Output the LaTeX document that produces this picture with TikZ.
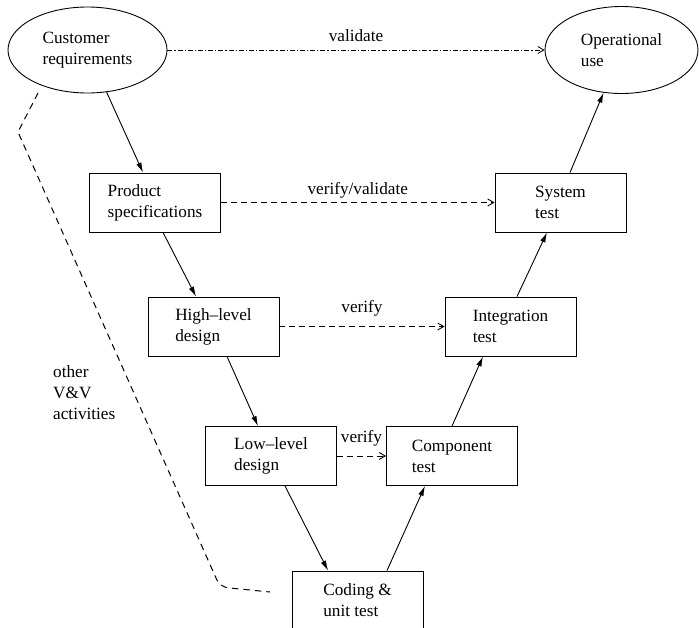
\documentclass[tikz,border=0pt]{standalone}
\usepackage{fontspec}
\setmainfont{Liberation Serif}
\usetikzlibrary{arrows.meta,calc,shapes.geometric}
\newcommand\dfont{\fontsize{17.2}{21}\selectfont}
\begin{document}
\begin{tikzpicture}[x=1pt,y=-1pt,
  every node/.style={font=\dfont},
  stagebox/.style={draw, line width=0.9pt, align=left, minimum width=131pt, minimum height=59pt, inner sep=0pt},
  oval/.style={draw, ellipse, line width=0.9pt, align=left, inner sep=0pt},
  flow/.style={line width=0.9pt, -{Latex[length=10pt,width=5.5pt]}},
  dsh/.style={line width=0.9pt, dash pattern=on 6pt off 4pt, -{Straight Barb[length=6pt,width=7pt]}},
  dshdot/.style={line width=0.8pt, dash pattern=on 5pt off 2pt on 1.2pt off 2pt, -{Straight Barb[length=6pt,width=7pt]}},
  vvline/.style={line width=1pt, dash pattern=on 6.5pt off 5pt},
  lbl/.style={inner sep=0pt}
]
\useasboundingbox (0,0) rectangle (699,627);

% ellipses
\node[oval, minimum width=159pt, minimum height=86pt] (cust) at (87.5,50) {Customer\\requirements};
\node[oval, minimum width=153pt, minimum height=87pt] (op) at (621.5,50) {Operational\\use};

% boxes
\node[stagebox] (prod) at (155,202.5) {Product\\specifications};
\node[stagebox] (hl) at (213.5,326.5) {High--level\\design};
\node[stagebox] (ll) at (271,456) {Low--level\\design};
\node[stagebox] (coding) at (357.5,600.5) {Coding \&\\unit test};
\node[stagebox] (comp) at (452,456) {Component\\test};
\node[stagebox] (integ) at (510.5,326.5) {Integration\\test};
\node[stagebox] (sys) at (560.5,202.5) {System\\test};

% horizontal verification links
\draw[dshdot] (cust.east) -- node[lbl, above=8pt] (l1) {validate} (op.west);
\draw[dsh] (prod.east) -- node[lbl, above=4pt] (l2) {verify/validate} (sys.west);
\draw[dsh] (hl.east) -- node[lbl, above=10pt] (l3) {verify} (integ.west);
\draw[dsh] (ll.east) -- node[lbl, above=9pt] (l4) {verify} (comp.west);

% V flow
\draw[flow] (cust) -- ([xshift=-12pt]prod.north);
\draw[flow] ([xshift=8pt]prod.south) -- ([xshift=-17.5pt]hl.north);
\draw[flow] ([xshift=13.5pt]hl.south) -- ([xshift=-13pt]ll.north);
\draw[flow] ([xshift=14pt]ll.south) -- ([xshift=-29.5pt]coding.north);
\draw[flow] ([xshift=29.5pt]coding.north) -- ([xshift=-27pt]comp.south);
\draw[flow] (comp.north) -- ([xshift=-27.5pt]integ.south);
\draw[flow] ([xshift=6.5pt]integ.north) -- ([xshift=-13.5pt]sys.south);
\draw[flow] ([xshift=9.5pt]sys.north) -- (op);

% other V&V activities
\coordinate (vvs) at (38,93);
\coordinate (vvk) at (18,132);
\coordinate (vvc) at (220,587);
\coordinate (vve) at (270,592);
\draw[vvline] (vvs) -- (vvk) [rounded corners=8pt] -- (vvc) -- (vve);
\node[lbl, anchor=west, align=left] (oth) at (53,393) {other\\V\&V\\activities};
\end{tikzpicture}
\end{document}
